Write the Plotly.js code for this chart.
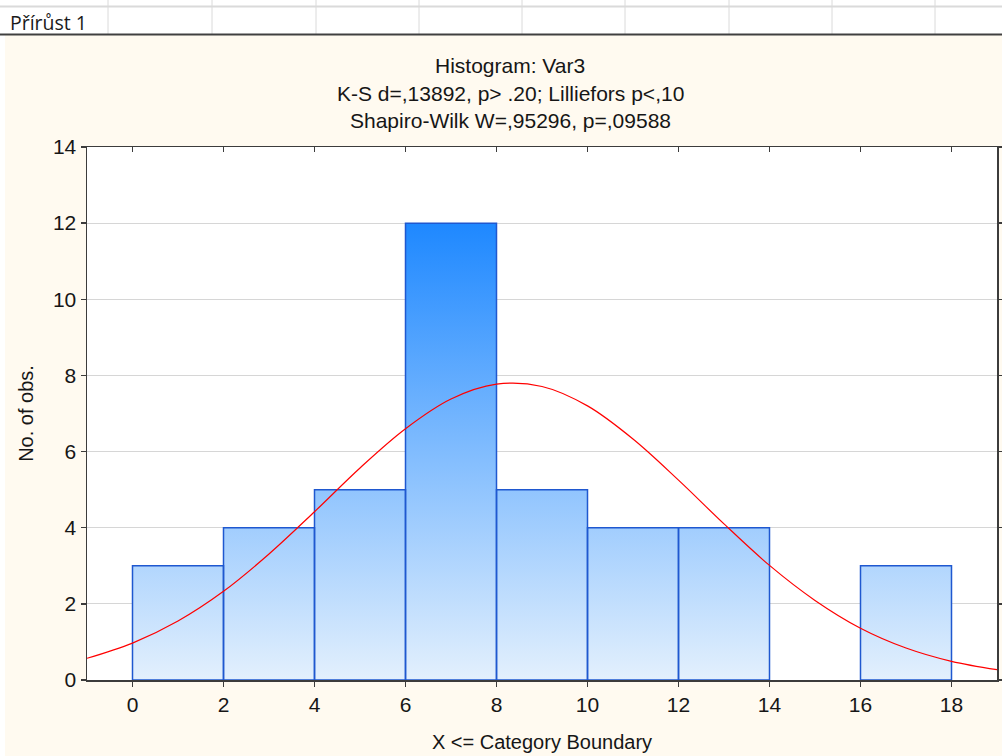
<!DOCTYPE html>
<html>
<head>
<meta charset="utf-8">
<script src="https://cdn.plot.ly/plotly-3.0.1.min.js"></script>
<style>
  html, body { margin: 0; padding: 0; background: #fffaf0; }
  #chart { width: 1002px; height: 756px; }
</style>
</head>
<body>
<div id="chart"></div>
<script>
// ---- data ----
const binEdges = [0, 2, 4, 6, 8, 10, 12, 14, 16, 18];
const counts = [3, 4, 5, 12, 5, 4, 4, 0, 3];
const curveX = [-1, 0, 1, 2, 3, 4, 5, 6, 7, 8, 9, 10, 11, 12, 13, 14, 15, 16, 17, 18, 19];
const curveY = [0.57, 0.97, 1.55, 2.33, 3.31, 4.42, 5.57, 6.60, 7.38, 7.77, 7.71, 7.20, 6.33, 5.25, 4.10, 3.01, 2.09, 1.36, 0.84, 0.49, 0.27];
const xTicks = [0, 2, 4, 6, 8, 10, 12, 14, 16, 18];
const yTicks = [0, 2, 4, 6, 8, 10, 12, 14];
const titleLines = ["Histogram: Var3", "K-S d=,13892, p> .20; Lilliefors p<,10", "Shapiro-Wilk W=,95296, p=,09588"];
const sheetLabel = "Přírůst 1";
const xTitle = "X <= Category Boundary";
const yTitle = "No. of obs.";

// ---- build bar outlines (closed rectangles separated by gaps) ----
const barX = [], barY = [];
for (let i = 0; i < counts.length; i++) {
  if (counts[i] <= 0) continue;
  const lo = binEdges[i], hi = binEdges[i + 1], c = counts[i];
  barX.push(lo, lo, hi, hi, lo, null);
  barY.push(0, c, c, 0, 0, null);
}

// ---- pixel helpers for decorations outside the plot area ----
const M = {l: 87, r: 5, t: 147, b: 76};
const W = 1002, H = 756;
const pw = W - M.l - M.r, ph = H - M.t - M.b;
const px = p => (p - M.l) / pw;
const py = p => (H - M.b - p) / ph;

const font = "Liberation Sans, Arial, sans-serif";
const txt = "#161616";

const shapes = [];
// white spreadsheet header
shapes.push({type: 'rect', xref: 'paper', yref: 'paper', x0: px(0), x1: px(W), y0: py(0), y1: py(35), fillcolor: '#ffffff', line: {width: 0}});
// white left strip
shapes.push({type: 'rect', xref: 'paper', yref: 'paper', x0: px(0), x1: px(5), y0: py(35), y1: py(H), fillcolor: '#ffffff', line: {width: 0}});
// header gridlines
shapes.push({type: 'line', xref: 'paper', yref: 'paper', x0: px(0), x1: px(W), y0: py(6.5), y1: py(6.5), line: {color: '#dadada', width: 2}});
[108, 212, 316, 419, 522, 625, 729, 832, 935].forEach(c => {
  shapes.push({type: 'line', xref: 'paper', yref: 'paper', x0: px(c), x1: px(c), y0: py(0), y1: py(34), line: {color: '#dadada', width: 1}});
});
shapes.push({type: 'line', xref: 'paper', yref: 'paper', x0: px(0), x1: px(W), y0: py(34.5), y1: py(34.5), line: {color: '#404040', width: 2}});

const annotations = [];
annotations.push({xref: 'paper', yref: 'paper', x: px(8), y: py(22), xanchor: 'left', yanchor: 'middle', showarrow: false,
  text: sheetLabel, font: {family: "Open Sans, Noto Sans, sans-serif", size: 19.5, color: '#1a1a1a'}});
const titleY = [65, 93, 121];
titleLines.forEach((t, i) => {
  annotations.push({xref: 'paper', yref: 'paper', x: px(510), y: py(titleY[i]), xanchor: 'center', yanchor: 'middle', showarrow: false,
    text: t, font: {family: font, size: 21, color: txt}});
});

const traces = [
  {
    x: barX, y: barY, type: 'scatter', mode: 'lines', fill: 'toself',
    fillgradient: {type: 'vertical', colorscale: [[0, 'rgb(227,240,253)'], [1, 'rgb(30,136,255)']]},
    line: {color: '#1f58d0', width: 1.5}, hoverinfo: 'skip', connectgaps: false, showlegend: false
  },
  {
    x: curveX, y: curveY, type: 'scatter', mode: 'lines', xaxis: 'x2',
    line: {color: '#ff0000', width: 1.2, shape: 'spline', smoothing: 1}, hoverinfo: 'skip', showlegend: false
  }
];

const axisLine = '#3c3c3c';
const layout = {
  width: W, height: H,
  margin: M,
  paper_bgcolor: '#fffaf0',
  plot_bgcolor: '#ffffff',
  showlegend: false,
  font: {family: font, size: 21, color: txt},
  xaxis: {
    range: [-1, 19], tickvals: xTicks, ticktext: xTicks.map(String),
    showgrid: false, zeroline: false, showline: true, linecolor: axisLine, linewidth: 1.5,
    ticks: 'outside', ticklen: 5, tickcolor: axisLine, tickwidth: 1.5, mirror: false,
    tickfont: {family: font, size: 21, color: txt},
    title: {text: xTitle, font: {family: font, size: 20, color: txt}, standoff: 20},
    automargin: false, fixedrange: true
  },
  xaxis2: {
    range: [-1, 19], tickvals: xTicks, overlaying: 'x', side: 'top', anchor: 'y',
    showgrid: false, zeroline: false, showline: true, linecolor: axisLine, linewidth: 1.5,
    ticks: 'inside', ticklen: 5, tickcolor: axisLine, tickwidth: 1.5, showticklabels: false,
    automargin: false, fixedrange: true
  },
  yaxis: {
    range: [0, 14], tickvals: yTicks, ticktext: yTicks.map(String),
    showgrid: true, gridcolor: '#d6d6d6', gridwidth: 1, zeroline: false,
    showline: true, linecolor: axisLine, linewidth: 1.5, mirror: 'ticks',
    ticks: 'outside', ticklen: 5, tickcolor: axisLine, tickwidth: 1.5,
    tickfont: {family: font, size: 21, color: txt},
    title: {text: yTitle, font: {family: font, size: 20, color: txt}, standoff: 14},
    automargin: false, fixedrange: true
  },
  shapes: shapes,
  annotations: annotations
};

Plotly.newPlot('chart', traces, layout, {displayModeBar: false, staticPlot: true});
</script>
</body>
</html>
